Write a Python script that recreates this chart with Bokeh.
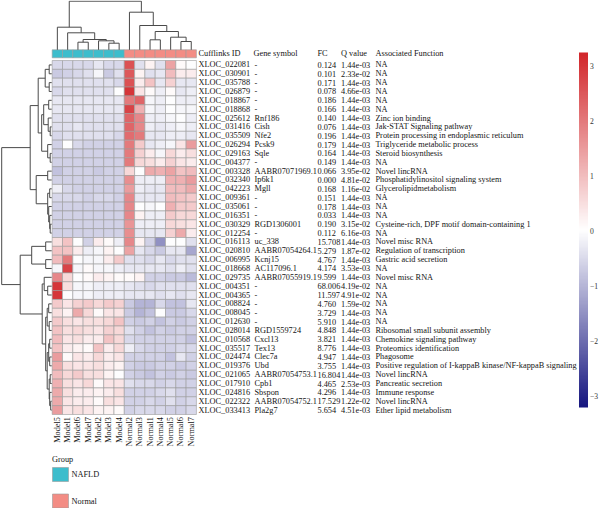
import numpy as np
from bokeh.plotting import figure
from bokeh.models import ColumnDataSource, LinearColorMapper, ColorBar, FixedTicker, Range1d
from bokeh.core.properties import value
from bokeh.embed import file_html
from bokeh.resources import INLINE

# ---------------- data ----------------
samples = ["Model5", "Model1", "Model6", "Model7", "Model2", "Model3", "Model4",
           "Normal2", "Normal3", "Normal1", "Normal4", "Normal5", "Normal6", "Normal7"]
sample_groups = ["NAFLD"] * 7 + ["Normal"] * 7
group_names = ["NAFLD", "Normal"]
group_colors = ["#3DBDCC", "#F38C84"]

cufflinks_ids = ["XLOC_022081", "XLOC_030901", "XLOC_035788", "XLOC_026879", "XLOC_018867",
                 "XLOC_018868", "XLOC_025612", "XLOC_031416", "XLOC_035509", "XLOC_026294",
                 "XLOC_029163", "XLOC_004377", "XLOC_003328", "XLOC_032340", "XLOC_042223",
                 "XLOC_009361", "XLOC_035061", "XLOC_016351", "XLOC_030329", "XLOC_012254",
                 "XLOC_016113", "XLOC_020810", "XLOC_006995", "XLOC_018668", "XLOC_029735",
                 "XLOC_004351", "XLOC_004365", "XLOC_008824", "XLOC_008045", "XLOC_012630",
                 "XLOC_028014", "XLOC_010568", "XLOC_035517", "XLOC_024474", "XLOC_019376",
                 "XLOC_021065", "XLOC_017910", "XLOC_024816", "XLOC_022322", "XLOC_033413"]
gene_symbols = ["-", "-", "-", "-", "-", "-", "Rnf186", "Cish", "Nfe2", "Pcsk9",
                "Sqle", "-", "AABR07071969.1", "Ip6k1", "Mgll", "-", "-", "-", "RGD1306001", "-",
                "uc_338", "AABR07054264.1", "Kcnj15", "AC117096.1", "AABR07055919.1", "-", "-", "-", "-", "-",
                "RGD1559724", "Cxcl13", "Tex13", "Clec7a", "Ubd", "AABR07054753.1", "Cpb1", "Sbspon",
                "AABR07054752.1", "Pla2g7"]
fold_changes = ["0.124", "0.101", "0.171", "0.078", "0.186", "0.166", "0.140", "0.076", "0.196", "0.179",
                "0.164", "0.149", "0.066", "0.000", "0.168", "0.151", "0.178", "0.033", "0.190", "0.112",
                "15.708", "5.279", "4.767", "4.174", "9.599", "68.006", "11.597", "4.760", "3.729", "5.910",
                "4.848", "3.821", "8.776", "4.947", "3.755", "16.804", "4.465", "4.296", "17.529", "5.654"]
q_values = ["1.44e-03", "2.33e-02", "1.44e-03", "4.66e-03", "1.44e-03", "1.44e-03", "1.44e-03", "1.44e-03",
            "1.44e-03", "1.44e-03", "1.44e-03", "1.44e-03", "3.95e-02", "4.81e-02", "1.16e-02", "1.44e-03",
            "1.44e-03", "1.44e-03", "3.15e-02", "6.16e-03", "1.44e-03", "1.87e-02", "1.44e-03", "3.53e-03",
            "1.44e-03", "4.19e-02", "4.91e-02", "1.59e-02", "1.44e-03", "1.44e-03", "1.44e-03", "1.44e-03",
            "1.44e-03", "1.44e-03", "1.44e-03", "1.44e-03", "2.53e-03", "1.44e-03", "1.22e-02", "4.51e-03"]
functions = ["NA", "NA", "NA", "NA", "NA", "NA", "Zinc ion binding", "Jak-STAT Signaling pathway",
             "Protein processing in endoplasmic reticulum", "Triglyceride metabolic process",
             "Steroid biosynthesis", "NA", "Novel lincRNA", "Phosphatidylinositol signaling system",
             "Glycerolipidmetabolism", "NA", "NA", "NA", "Cysteine-rich, DPF motif domain-containing 1", "NA",
             "Novel misc RNA", "Regulation of transcription", "Gastric acid secretion", "NA", "Novel misc RNA",
             "NA", "NA", "NA", "NA", "NA", "Ribosomal small subunit assembly", "Chemokine signaling pathway",
             "Proteomics identification", "Phagosome",
             "Positive regulation of I-kappaB kinase/NF-kappaB signaling", "Novel lincRNA",
             "Pancreatic secretion", "Immune response", "Novel lincRNA", "Ether lipid metabolism"]
headers = ["Cufflinks ID", "Gene symbol", "FC", "Q value", "Associated Function"]

zscores = [
    [-0.5, -0.5, -0.5, -0.5, -0.3, -0.5, -0.5, 2.6, -0.4, 0.2, -0.4, 1.4, 0.1, 0.0],
    [-0.7, -0.6, -0.5, -0.4, -0.1, -0.7, -0.4, 2.5, 0.2, -0.4, -0.3, 1.0, 0.3, 0.3],
    [-0.4, -0.4, -0.4, -0.4, -0.4, -0.4, -0.5, 2.6, 0.3, 0.9, -0.3, 0.7, -0.3, -0.3],
    [-0.5, -0.4, -0.4, -0.4, -0.4, -0.4, 0.0, 3.0, 0.4, 0.1, -0.2, 0.1, -0.3, -0.2],
    [-0.3, -0.3, -0.3, -0.3, -0.3, -0.3, -0.3, 2.0, 2.3, -0.1, -0.2, 0.0, -0.2, -0.2],
    [-0.3, -0.3, -0.3, -0.3, -0.3, -0.3, -0.3, 2.8, 1.2, -0.1, -0.2, 0.0, -0.1, -0.1],
    [-0.4, -0.4, -0.4, -0.4, -0.4, -0.4, -0.4, 2.3, 1.8, -0.2, -0.2, -0.1, 0.0, -0.2],
    [-0.4, -0.4, -0.3, -0.4, -0.4, -0.4, -0.4, 2.3, 1.8, -0.2, -0.3, -0.2, -0.1, -0.2],
    [-0.5, -0.4, -0.4, -0.4, -0.4, -0.4, -0.5, 2.2, 2.0, -0.3, -0.3, -0.2, -0.2, -0.3],
    [-0.6, 0.0, -0.5, -0.6, -0.6, -0.6, -0.6, 2.0, 0.8, -0.3, -0.2, -0.1, 0.4, 1.5],
    [-0.6, -0.6, -0.6, -0.6, -0.6, -0.6, -0.6, 2.0, 0.7, 0.3, -0.1, 0.6, 0.3, 0.5],
    [-0.6, -0.6, -0.6, -0.6, -0.6, -0.6, -0.6, 2.0, 0.6, 0.5, 0.3, 0.7, 0.4, 0.3],
    [-0.8, -0.6, -0.6, -0.6, -0.7, -0.6, -0.6, 0.6, 0.0, 1.3, 1.2, 1.4, 0.9, 1.0],
    [-0.6, -0.6, -0.6, -0.6, -0.6, -0.6, -0.6, 1.7, -0.2, -0.2, -0.2, 1.2, 1.2, 1.5],
    [-0.2, -0.5, -0.6, -0.6, -0.6, -0.6, -0.6, 1.5, -0.2, -0.3, -0.3, 1.0, 1.0, 1.3],
    [-0.5, -0.5, -0.5, -0.6, -0.5, -0.5, -0.6, 1.8, -0.3, -0.3, -0.3, 1.0, 0.9, 0.8],
    [-0.6, -0.6, -0.6, -0.6, -0.6, -0.6, -0.6, 1.8, 0.0, -0.1, 0.0, 1.2, 0.8, 0.8],
    [-0.6, -0.6, -0.6, -0.6, -0.6, -0.6, -0.6, 1.8, 0.2, -0.2, -0.2, 0.8, 0.6, 0.6],
    [-0.6, -0.6, -0.6, -0.6, -0.6, -0.6, -0.6, 1.6, -0.2, -0.2, -0.2, 0.6, 0.5, 0.4],
    [-0.6, -0.6, -0.6, -0.6, -0.6, -0.6, -0.6, 1.7, -0.3, -0.3, -0.3, 0.7, 1.3, 0.3],
    [0.5, 0.9, 0.0, -0.6, 0.3, 0.1, -0.2, 1.8, 0.2, -0.6, -1.5, 0.0, 0.0, -0.4],
    [0.9, 0.9, 0.3, -0.2, -0.1, 0.2, 0.0, 1.4, -0.3, -0.5, -0.7, -0.3, -0.3, -1.2],
    [1.0, 2.0, 0.0, -0.1, -0.1, 0.3, 0.8, -0.4, -0.4, -0.5, -0.3, -0.5, -0.4, -0.4],
    [-0.1, 2.8, -0.1, 0.1, -0.1, -0.1, -0.2, -0.3, -0.3, -0.3, -0.3, -0.4, -0.2, -0.4],
    [1.8, 0.6, 0.0, 0.1, 0.3, 0.2, 0.1, 0.1, 0.2, -0.6, -0.6, -0.7, -0.7, -0.9],
    [3.0, 0.5, -0.1, -0.1, -0.2, -0.2, -0.2, -0.3, -0.4, -0.5, -0.4, -0.4, -0.4, -0.4],
    [3.0, 0.0, -0.1, -0.1, -0.2, -0.2, -0.2, -0.3, -0.3, -0.3, -0.4, -0.3, -0.4, -0.3],
    [0.8, 0.4, 0.7, 0.8, 0.6, 0.8, 0.7, -0.7, -1.0, -1.0, -0.5, -0.8, -0.8, -0.3],
    [0.5, 0.2, 1.3, 0.6, 0.1, 0.4, 0.4, -0.7, -1.0, -0.8, 0.0, -0.7, -0.7, -0.5],
    [0.8, 0.5, 0.4, 0.5, 0.5, 0.6, 0.9, -0.6, -0.7, -0.6, -0.8, -0.6, -0.7, -0.6],
    [0.9, 0.5, 0.6, 0.5, 0.4, 0.7, 0.6, -0.4, -0.6, -0.8, -0.6, -0.7, -0.6, -0.6],
    [1.0, 0.4, 0.5, 0.3, 0.3, 0.9, 0.6, -0.5, -0.6, -0.6, -0.6, -0.6, -0.6, -0.8],
    [0.9, 0.3, 0.2, 0.1, 0.9, 0.3, 0.6, -0.2, -0.5, -0.6, -0.6, -0.6, -0.5, -0.5],
    [1.5, 0.1, 0.4, 0.3, 0.6, 0.3, 0.4, -0.6, -0.6, -0.6, -0.6, -0.8, -0.3, -0.6],
    [1.3, 0.5, 0.4, 0.4, 0.5, 0.3, 0.2, -0.6, -0.7, -0.7, -0.6, -0.6, -0.7, -0.6],
    [1.0, 0.6, 0.8, 0.5, 0.5, 0.2, 0.0, -0.6, -0.7, -0.8, -0.6, -0.7, -0.6, -0.7],
    [1.2, 0.5, 0.4, 0.6, 0.1, 0.4, 0.4, -0.4, -0.5, -0.5, -0.6, -0.5, -0.6, -0.6],
    [1.3, 0.5, 0.3, 0.3, 0.2, 0.3, 0.5, -0.6, -0.6, -0.6, -0.5, -0.4, -0.6, -0.6],
    [1.3, 0.4, 0.3, 0.3, 0.1, 0.5, 0.4, -0.6, -0.6, -0.5, -0.6, -0.4, -0.6, -0.5],
    [1.5, 0.4, 0.5, 0.4, 0.2, 0.2, 0.1, -0.6, -0.5, -0.5, -0.5, -0.6, -0.6, -0.5],
]

# dendrograms: (left, right, merge height); leaves are sample / gene indices
col_tree = (
    (0, (1, ((2, 3, 7.6), (4, (5, 6, 6.6), 9.0), 10.3), 17.0), 22.6),
    (7, (8, ((9, 10, 10.0), (11, (12, 13, 8.3), 12.6), 18.3), 24.3), 37.6),
    48.6)
row_tree = (
    ((((0, 1, 2.5), (2, 3, 2.5), 6.5),
      (((4, 5, 3.0), (6, (7, 8, 1.5), 3.5), 8.0), (9, (10, 11, 1.5), 4.0), 10.0), 13.5),
     ((12, 13, 4.0), ((14, 15, 2.0), (16, (17, (18, 19, 1.5), 2.0), 3.0), 4.0), 15.5), 21.5),
    ((((20, 21, 6.0), (22, 23, 6.0), 20.0)),
     ((24, (25, 26, 4.0), 7.5),
      (((27, 28, 3.0), (29, 30, 2.5), 4.5),
       (((31, 32, 2.0), (33, 34, 2.0), 3.0), ((35, 36, 1.5), (37, (38, 39, 1.0), 2.0), 2.5), 4.5), 6.0), 9.5),
     31.5),
    50.0)

# ---------------- layout constants (reference pixel space) ----------------
W, H = 600, 508
HX0, CW = 51.7, 10.3        # heatmap left edge, cell width
HY0, RH = 60.0, 8.85        # heatmap top edge, row height
BAR_Y0, BAR_Y1 = 49.3, 57.3  # annotation bar
FONT = value("Liberation Serif")
FS = "8.3px"
TXT = "#141414"

p = figure(width=W, height=H, x_range=Range1d(0, W), y_range=Range1d(H, 0),
           x_axis_type=None, y_axis_type=None, output_backend="svg",
           toolbar_location=None, min_border=0)
p.grid.visible = False
p.outline_line_color = None

# palette navy -> white -> firebrick
def ramp(c0, c1, n):
    return ["#%02x%02x%02x" % tuple(int(round(a + (b - a) * t)) for a, b in zip(c0, c1))
            for t in np.linspace(0, 1, n)]
palette = ramp((22, 22, 128), (255, 255, 255), 128) + ramp((255, 255, 255), (210, 38, 42), 128)[1:]
mapper = LinearColorMapper(palette=palette, low=-3.2, high=3.25)

# ---------------- heatmap ----------------
nrow, ncol = len(zscores), len(samples)
xs, ys, zs = [], [], []
for i, row in enumerate(zscores):
    for j, z in enumerate(row):
        xs.append(HX0 + (j + 0.5) * CW)
        ys.append(HY0 + (i + 0.5) * RH)
        zs.append(z)
src = ColumnDataSource(dict(x=xs, y=ys, z=zs))
p.rect(x="x", y="y", width=CW, height=RH, source=src,
       fill_color={"field": "z", "transform": mapper}, line_color="#9a9a9a", line_width=0.6)

# annotation bar
gcol = {g: c for g, c in zip(group_names, group_colors)}
p.rect(x=[HX0 + (j + 0.5) * CW for j in range(ncol)], y=[(BAR_Y0 + BAR_Y1) / 2] * ncol,
       width=CW, height=BAR_Y1 - BAR_Y0, fill_color=[gcol[g] for g in sample_groups],
       line_color="#9a9a9a", line_width=0.6)

# ---------------- dendrograms ----------------
def segs(node, out):
    if isinstance(node, int):
        return float(node), 0.0
    l, r, h = node
    pl, hl = segs(l, out)
    pr, hr = segs(r, out)
    out.append((pl, hl, pl, h))
    out.append((pr, hr, pr, h))
    out.append((pl, h, pr, h))
    return (pl + pr) / 2, h

cs = []
segs(col_tree, cs)
p.segment(x0=[HX0 + (s[0] + 0.5) * CW for s in cs], y0=[BAR_Y0 - s[1] for s in cs],
          x1=[HX0 + (s[2] + 0.5) * CW for s in cs], y1=[BAR_Y0 - s[3] for s in cs],
          line_color="#4a4a4a", line_width=1)
rs = []
segs(row_tree, rs)
p.segment(x0=[HX0 - 0.5 - s[1] for s in rs], y0=[HY0 + (s[0] + 0.5) * RH for s in rs],
          x1=[HX0 - 0.5 - s[3] for s in rs], y1=[HY0 + (s[2] + 0.5) * RH for s in rs],
          line_color="#4a4a4a", line_width=1)

# ---------------- text table ----------------
col_x = [198, 254, 317, 340.5, 375]
row_y = [HY0 + (i + 0.5) * RH for i in range(nrow)]
for k, h in enumerate(headers):
    p.text(x=[col_x[k] - (1 if k == 1 else 0)], y=[(BAR_Y0 + BAR_Y1) / 2], text=[h],
           text_font=FONT, text_font_size=FS, text_color=TXT, text_baseline="middle")
for k, col in enumerate([cufflinks_ids, gene_symbols, fold_changes, q_values, functions]):
    p.text(x=[col_x[k]] * nrow, y=row_y, text=col, text_font=FONT, text_font_size=FS,
           text_color=TXT, text_baseline="middle")

# sample labels (rotated)
p.text(x=[HX0 + (j + 0.5) * CW for j in range(ncol)], y=[HY0 + nrow * RH + 2.5] * ncol,
       text=samples, angle=np.pi / 2, text_align="right", text_baseline="middle",
       text_font=FONT, text_font_size=FS, text_color=TXT)

# ---------------- group legend ----------------
p.text(x=[51.5], y=[458.5], text=["Group"], text_font=FONT, text_font_size=FS,
       text_color=TXT, text_baseline="middle")
leg_y = [474 + 26.5 * k for k in range(len(group_names))]
p.rect(x=[60] * len(group_names), y=leg_y, width=16, height=14, fill_color=group_colors,
       line_color="#9a9a9a", line_width=0.6)
p.text(x=[71] * len(group_names), y=leg_y, text=group_names, text_font=FONT, text_font_size=FS,
       text_color=TXT, text_baseline="middle")

# ---------------- colour bar ----------------
cb_top, cb_bot, cb_x = 52, 407, 578.5
cb = ColorBar(color_mapper=mapper, ticker=FixedTicker(ticks=[-3, -2, -1, 0, 1, 2, 3]),
              major_label_overrides={-3: "\u22123", -2: "\u22122", -1: "\u22121"},
              location=(cb_x, H - cb_bot), width=9, height=cb_bot - cb_top,
              padding=0, label_standoff=2,
              major_tick_line_color=None, minor_tick_line_color=None, bar_line_color=None,
              border_line_color=None, background_fill_alpha=0,
              major_label_text_font="Liberation Serif", major_label_text_font_size="7.6px",
              major_label_text_color="#333333")
p.add_layout(cb)

open("out.html", "w").write(file_html(p, INLINE))
